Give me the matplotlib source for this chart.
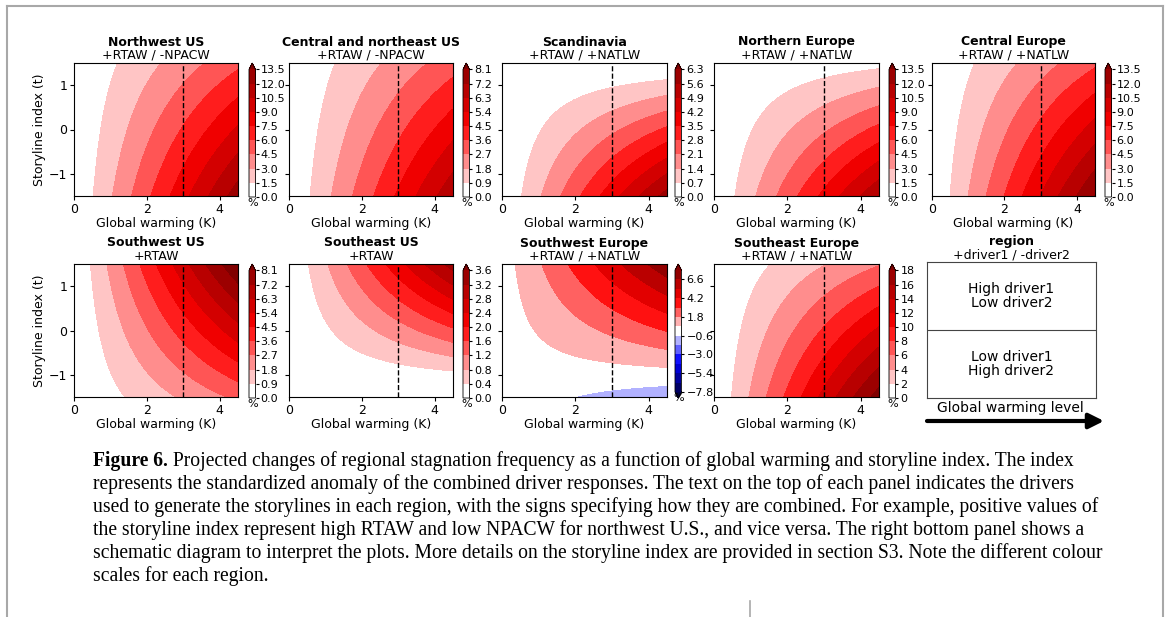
import numpy as np
import matplotlib.pyplot as plt
from matplotlib.lines import Line2D

# Define data.
regions = ['Northwest US', 'Central and northeast US', 'Scandinavia', 'Northern Europe',
           'Central Europe', 'Southwest US', 'Southeast US', 'Southwest Europe',
           'Southeast Europe']
drivers = ['+RTAW / -NPACW', '+RTAW / -NPACW', '+RTAW / +NATLW', '+RTAW / +NATLW',
           '+RTAW / +NATLW', '+RTAW', '+RTAW', '+RTAW / +NATLW', '+RTAW / +NATLW']
# change in stagnation frequency per K of warming at index 0 (%/K) and
# its change per unit of storyline index (%/K)
sens_mean = [2.05, 1.13, 0.65, 1.43, 2.14, 1.32, 0.34, 0.68, 2.75]
sens_index = [-0.53, -0.28, -0.44, -0.80, -0.58, 0.45, 0.275, 0.656, -0.97]
level_step = [1.5, 0.9, 0.7, 1.5, 1.5, 0.9, 0.4, 1.2, 2]
level_max = [13.5, 8.1, 6.3, 13.5, 13.5, 8.1, 3.6, 7.8, 18]
two_sided = [False, False, False, False, False, False, False, True, False]

warming = np.linspace(0, 4.5, 300)
index = np.linspace(-1.5, 1.5, 300)
warming_marker = 3

caption_lines = [
    'Projected changes of regional stagnation frequency as a function of global warming and storyline index. The index',
    'represents the standardized anomaly of the combined driver responses. The text on the top of each panel indicates the drivers',
    'used to generate the storylines in each region, with the signs specifying how they are combined. For example, positive values of',
    'the storyline index represent high RTAW and low NPACW for northwest U.S., and vice versa. The right bottom panel shows a',
    'schematic diagram to interpret the plots. More details on the storyline index are provided in section S3. Note the different colour',
    'scales for each region.',
]

W, H = 1170, 617


def px_rect(x0, y0, x1, y1):
    return [x0 / W, 1 - y1 / H, (x1 - x0) / W, (y1 - y0) / H]


def band_color(pos):
    # seismic, but with the zero band exactly white
    if abs(pos - 0.5) < 1e-9:
        return (1.0, 1.0, 1.0, 1.0)
    return seismic(pos)


fig = plt.figure(figsize=(W / 100, H / 100), dpi=100)
page = fig.add_axes([0, 0, 1, 1], zorder=-1)
page.set_xlim(0, W)
page.set_ylim(H, 0)
page.axis('off')

# Page frame.
frame = '#a8a8a8'
page.add_line(Line2D([7, 1163], [6, 6], color=frame, lw=1.5))
page.add_line(Line2D([7, 7], [6, H], color=frame, lw=1.5))
page.add_line(Line2D([1163, 1163], [6, H], color=frame, lw=1.5))
page.add_line(Line2D([750, 750], [601, H], color=frame, lw=1.2))

col_x = [(74, 238), (289, 453), (502, 667), (714, 879), (932, 1095)]
cbar_x = [249, 463, 675, 889, 1105]
row_y = [(63, 196), (264, 397)]
seismic = plt.get_cmap('seismic')

T, G = np.meshgrid(index, warming, indexing='ij')

for i, name in enumerate(regions):
    row, col = divmod(i, 5)
    x0, x1 = col_x[col]
    y0, y1 = row_y[row]
    ax = fig.add_axes(px_rect(x0, y0, x1, y1))
    z = G * (sens_mean[i] + sens_index[i] * T)

    step = level_step[i]
    top = level_max[i]
    if two_sided[i]:
        n = int(round(2 * top / step))
        levels = np.linspace(-top, top, n + 1)
        mids = (levels[:-1] + levels[1:]) / 2
        colors = ([seismic(0.0)] + [band_color(0.5 + 0.5 * m / top) for m in mids]
                  + [seismic(1.0)])
        extend = 'both'
        ticks = levels[:-1][::2]
    else:
        n = int(round(top / step))
        levels = np.linspace(0, top, n + 1)
        colors = [band_color(0.5 + 0.5 * k / n) for k in range(n)] + [seismic(1.0)]
        extend = 'max'
        ticks = levels
    cf = ax.contourf(warming, index, z, levels=levels, colors=colors, extend=extend)
    ax.axvline(warming_marker, color='k', ls='--', lw=1)

    ax.set_xlim(0, 4.5)
    ax.set_ylim(-1.5, 1.5)
    ax.set_xticks([0, 2, 4])
    ax.set_yticks([-1, 0, 1])
    ax.tick_params(labelsize=9, length=3, pad=2)
    ax.set_xlabel('Global warming (K)', fontsize=9, labelpad=1)
    if col == 0:
        ax.set_ylabel('Storyline index (t)', fontsize=9, labelpad=2)
    else:
        ax.set_yticklabels([])

    xc = (x0 + x1) / 2
    page.text(xc, y0 - 21, name, ha='center', va='center', fontsize=9, fontweight='bold')
    page.text(xc, y0 - 8, drivers[i], ha='center', va='center', fontsize=9)

    cax = fig.add_axes(px_rect(cbar_x[col], y0, cbar_x[col] + 6.5, y1 + 1))
    cb = fig.colorbar(cf, cax=cax, ticks=ticks)
    cb.ax.tick_params(labelsize=8, length=2.5, pad=1)
    cb.outline.set_linewidth(0.6)
    cb.ax.set_xlabel('%', fontsize=8, labelpad=1)

# Schematic panel.
sx0, sx1, sy0, sy1 = 927, 1096, 262, 398
sch = fig.add_axes(px_rect(sx0, sy0, sx1, sy1))
sch.set_xlim(0, 1)
sch.set_ylim(0, 1)
sch.set_xticks([])
sch.set_yticks([])
for s in sch.spines.values():
    s.set_linewidth(0.8)
    s.set_color('#444444')
sch.axhline(0.5, color='#444444', lw=0.8)
sch.text(0.5, 0.75, 'High driver1\nLow driver2', ha='center', va='center', fontsize=10,
         linespacing=0.95)
sch.text(0.5, 0.25, 'Low driver1\nHigh driver2', ha='center', va='center', fontsize=10,
         linespacing=0.95)
sxc = (sx0 + sx1) / 2
page.text(sxc, sy0 - 21, 'region', ha='center', va='center', fontsize=9, fontweight='bold')
page.text(sxc, sy0 - 7, '+driver1 / -driver2', ha='center', va='center', fontsize=9)
page.text(1010, 408, 'Global warming level', ha='center', va='center', fontsize=10)
page.annotate('', xy=(1104, 421), xytext=(927, 421),
              arrowprops=dict(arrowstyle='-|>,head_length=0.9,head_width=0.45', color='k',
                              lw=3, shrinkA=0, shrinkB=0))

# Caption.
cap_font = 'Liberation Serif'
cap_size = 14.1
line_y = [461, 484, 507, 530, 553, 576]
lead = page.text(93, line_y[0], 'Figure 6.', ha='left', va='center', fontsize=cap_size,
                 fontweight='bold', family=cap_font)
page.annotate(' ' + caption_lines[0], xy=(1, 0), xycoords=lead, ha='left', va='bottom',
              fontsize=cap_size, family=cap_font)
for y, line in zip(line_y[1:], caption_lines[1:]):
    page.text(93, y, line, ha='left', va='center', fontsize=cap_size, family=cap_font)

plt.savefig('out.png', dpi=100)
